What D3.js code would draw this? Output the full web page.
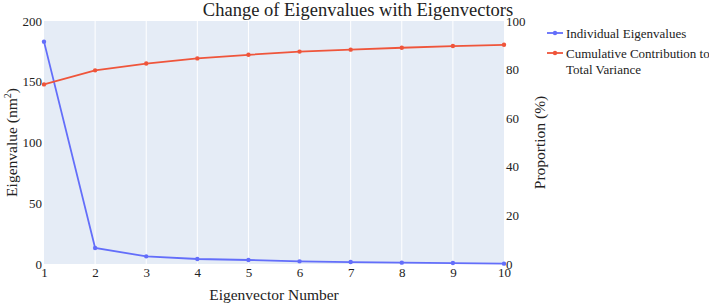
<!DOCTYPE html>
<html>
<head>
<meta charset="utf-8">
<script src="https://d3js.org/d3.v7.min.js"></script>
<style>
  body { margin: 0; background: #fff; }
  svg text { font-family: "Liberation Serif", serif !important; fill: #222; }
</style>
</head>
<body>
<svg id="chart"></svg>
<script>
  var w = 709, h = 304;
  var margin = {top: 21, right: 205, bottom: 40, left: 44};

  // data
  var eigenvectors = [1, 2, 3, 4, 5, 6, 7, 8, 9, 10];
  var eigenvalues = [183, 13.2, 6.3, 4.1, 3.3, 2.2, 1.6, 1.1, 0.8, 0.3];
  var cumulative = [73.9, 79.7, 82.5, 84.6, 86.1, 87.4, 88.2, 89.0, 89.7, 90.2];
  var xTicks = [1, 2, 3, 4, 5, 6, 7, 8, 9, 10];
  var leftTicks = [0, 50, 100, 150, 200];
  var rightTicks = [0, 20, 40, 60, 80, 100];
  var seriesNames = ["Individual Eigenvalues", "Cumulative Contribution to|Total Variance"];
  var colors = ["#636efa", "#ef553b"];

  var pw = w - margin.left - margin.right;
  var ph = h - margin.top - margin.bottom;

  var svg = d3.select("#chart").attr("width", w).attr("height", h)
    .attr("font-family", "Liberation Serif, serif");
  var g = svg.append("g").attr("transform", "translate(" + margin.left + "," + margin.top + ")");

  var x = d3.scaleLinear().domain([1, 10]).range([0, pw]);
  var yL = d3.scaleLinear().domain([0, 200]).range([ph, 0]);
  var yR = d3.scaleLinear().domain([0, 100]).range([ph, 0]);

  g.append("rect").attr("width", pw).attr("height", ph).attr("fill", "#e5ecf6");

  // vertical grid
  g.selectAll("line.grid").data(xTicks.slice(1, -1)).enter().append("line")
    .attr("class", "grid")
    .attr("x1", d => x(d)).attr("x2", d => x(d))
    .attr("y1", 0).attr("y2", ph)
    .attr("stroke", "#fff").attr("stroke-width", 1);

  // axes
  var xAxis = g.append("g").attr("transform", "translate(0," + ph + ")")
    .call(d3.axisBottom(x).tickValues(xTicks).tickSize(0).tickPadding(4));
  var lAxis = g.append("g").call(d3.axisLeft(yL).tickValues(leftTicks).tickSize(0).tickPadding(2));
  var rAxis = g.append("g").attr("transform", "translate(" + pw + ",0)")
    .call(d3.axisRight(yR).tickValues(rightTicks).tickSize(0).tickPadding(2));
  [xAxis, lAxis, rAxis].forEach(function(a) {
    a.attr("font-family", null).attr("font-size", null);
    a.select(".domain").remove();
    a.selectAll("text").style("font-size", "13px").attr("fill", "#222");
  });

  // lines
  var lineL = d3.line().x((d, i) => x(eigenvectors[i])).y(d => yL(d));
  var lineR = d3.line().x((d, i) => x(eigenvectors[i])).y(d => yR(d));

  g.append("path").datum(eigenvalues).attr("d", lineL)
    .attr("fill", "none").attr("stroke", colors[0]).attr("stroke-width", 1.8);
  g.selectAll("circle.ev").data(eigenvalues).enter().append("circle")
    .attr("class", "ev").attr("cx", (d, i) => x(eigenvectors[i])).attr("cy", d => yL(d))
    .attr("r", 2.2).attr("fill", colors[0]);

  g.append("path").datum(cumulative).attr("d", lineR)
    .attr("fill", "none").attr("stroke", colors[1]).attr("stroke-width", 1.8);
  g.selectAll("circle.cum").data(cumulative).enter().append("circle")
    .attr("class", "cum").attr("cx", (d, i) => x(eigenvectors[i])).attr("cy", d => yR(d))
    .attr("r", 2.2).attr("fill", colors[1]);

  // title
  svg.append("text").attr("x", 358).attr("y", 16).attr("text-anchor", "middle")
    .style("font-size", "18.5px").text("Change of Eigenvalues with Eigenvectors");

  // axis titles
  svg.append("text").attr("x", margin.left + pw / 2).attr("y", 300).attr("text-anchor", "middle")
    .style("font-size", "15.5px").text("Eigenvector Number");

  var lt = svg.append("text").attr("transform", "translate(17," + (margin.top + ph / 2) + ") rotate(-90)")
    .attr("text-anchor", "middle").style("font-size", "15.5px");
  lt.append("tspan").text("Eigenvalue (nm");
  lt.append("tspan").attr("dy", -6).style("font-size", "10px").text("2");
  lt.append("tspan").attr("dy", 6).text(")");

  svg.append("text").attr("transform", "translate(545," + (margin.top + ph / 2) + ") rotate(-90)")
    .attr("text-anchor", "middle").style("font-size", "15.5px").text("Proportion (%)");

  // legend
  var leg = svg.append("g").attr("transform", "translate(547,33)");
  var legY = [0, 20];
  seriesNames.forEach(function(name, i) {
    var item = leg.append("g").attr("transform", "translate(0," + legY[i] + ")");
    item.append("line").attr("x1", 0).attr("x2", 16).attr("y1", 0).attr("y2", 0)
      .attr("stroke", colors[i]).attr("stroke-width", 1.8);
    item.append("circle").attr("cx", 8).attr("cy", 0).attr("r", 2.2).attr("fill", colors[i]);
    var parts = name.split("|");
    var t = item.append("text").attr("x", 19).attr("y", 4.5).style("font-size", "13px");
    parts.forEach(function(p, j) {
      t.append("tspan").attr("x", 19).attr("dy", j === 0 ? 0 : 16).text(p);
    });
  });
</script>
</body>
</html>
